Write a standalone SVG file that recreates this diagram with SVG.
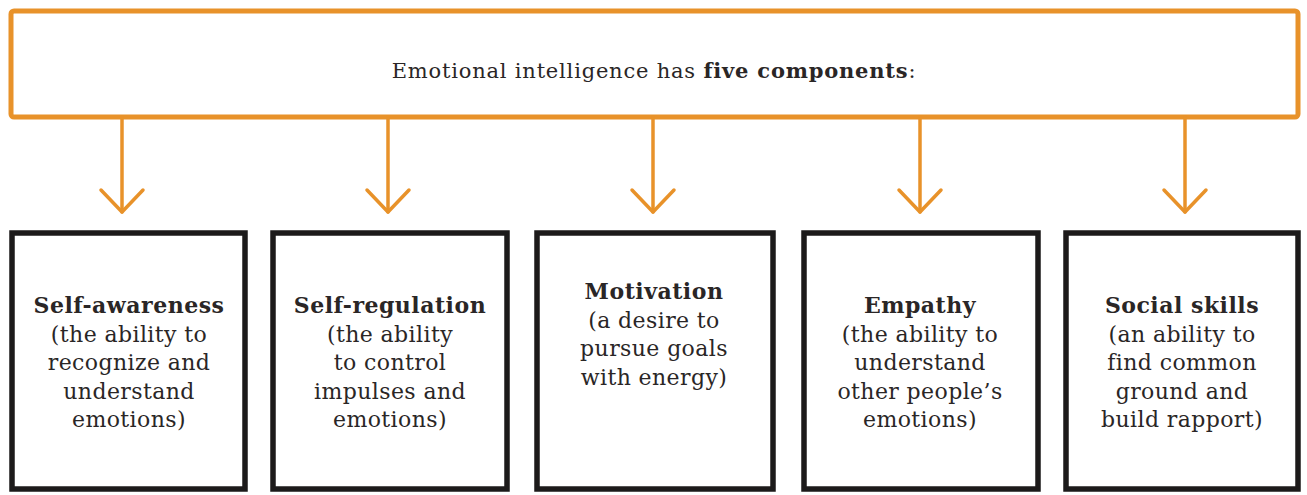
<svg xmlns="http://www.w3.org/2000/svg" width="1307" height="495" viewBox="0 0 1307 495">
<style>
.hdr{fill:#fff;stroke:#E8922A;stroke-width:5;stroke-linejoin:round}
.box{fill:#fff;stroke:#1c1a1a;stroke-width:5.5;stroke-linejoin:miter}
.conn{stroke:#E8922A;stroke-width:3.5;fill:none;stroke-linecap:round}
text{font-family:"DejaVu Serif","Liberation Serif",serif;fill:#2a2626;text-anchor:middle}
.t{font-size:21px;letter-spacing:0.8px}
.title{font-size:22px;font-weight:bold;letter-spacing:0.5px}
.body{font-size:22px;letter-spacing:0.4px}
.b{font-weight:bold}
</style>
<defs>
<marker id="chev" markerUnits="userSpaceOnUse" markerWidth="30" markerHeight="48" refX="26" refY="24" orient="auto" viewBox="0 0 30 48">
<path d="M4,3 L26,24 L4,45" fill="none" stroke="#E8922A" stroke-width="3.5" stroke-linecap="round" stroke-linejoin="round"/>
</marker>
</defs>
<g id="header">
<rect class="hdr" x="11" y="11" width="1287" height="106" rx="3"/>
<text class="t" x="654" y="78">Emotional intelligence has <tspan class="b">five components</tspan>:</text>
</g>
<g id="connectors">
<path class="conn" d="M122,117 L122,212" marker-end="url(#chev)"/>
<path class="conn" d="M388,117 L388,212" marker-end="url(#chev)"/>
<path class="conn" d="M653,117 L653,212" marker-end="url(#chev)"/>
<path class="conn" d="M920,117 L920,212" marker-end="url(#chev)"/>
<path class="conn" d="M1185,117 L1185,212" marker-end="url(#chev)"/>
</g>
<g id="self-awareness">
<rect class="box" x="12" y="233" width="233" height="256"/>
<text x="129" y="313"><tspan class="title">Self-awareness</tspan><tspan class="body" x="129" dy="28.5">(the ability to</tspan><tspan class="body" x="129" dy="28.5">recognize and</tspan><tspan class="body" x="129" dy="28.5">understand</tspan><tspan class="body" x="129" dy="28.5">emotions)</tspan></text>
</g>
<g id="self-regulation">
<rect class="box" x="273" y="233" width="234" height="256"/>
<text x="390" y="313"><tspan class="title">Self-regulation</tspan><tspan class="body" x="390" dy="28.5">(the ability</tspan><tspan class="body" x="390" dy="28.5">to control</tspan><tspan class="body" x="390" dy="28.5">impulses and</tspan><tspan class="body" x="390" dy="28.5">emotions)</tspan></text>
</g>
<g id="motivation">
<rect class="box" x="537" y="233" width="236" height="256"/>
<text x="654" y="299"><tspan class="title">Motivation</tspan><tspan class="body" x="654" dy="28.5">(a desire to</tspan><tspan class="body" x="654" dy="28.5">pursue goals</tspan><tspan class="body" x="654" dy="28.5">with energy)</tspan></text>
</g>
<g id="empathy">
<rect class="box" x="804" y="233" width="234" height="256"/>
<text x="920" y="313"><tspan class="title">Empathy</tspan><tspan class="body" x="920" dy="28.5">(the ability to</tspan><tspan class="body" x="920" dy="28.5">understand</tspan><tspan class="body" x="920" dy="28.5">other people’s</tspan><tspan class="body" x="920" dy="28.5">emotions)</tspan></text>
</g>
<g id="social-skills">
<rect class="box" x="1066" y="233" width="232" height="256"/>
<text x="1182" y="313"><tspan class="title">Social skills</tspan><tspan class="body" x="1182" dy="28.5">(an ability to</tspan><tspan class="body" x="1182" dy="28.5">find common</tspan><tspan class="body" x="1182" dy="28.5">ground and</tspan><tspan class="body" x="1182" dy="28.5">build rapport)</tspan></text>
</g>
</svg>
